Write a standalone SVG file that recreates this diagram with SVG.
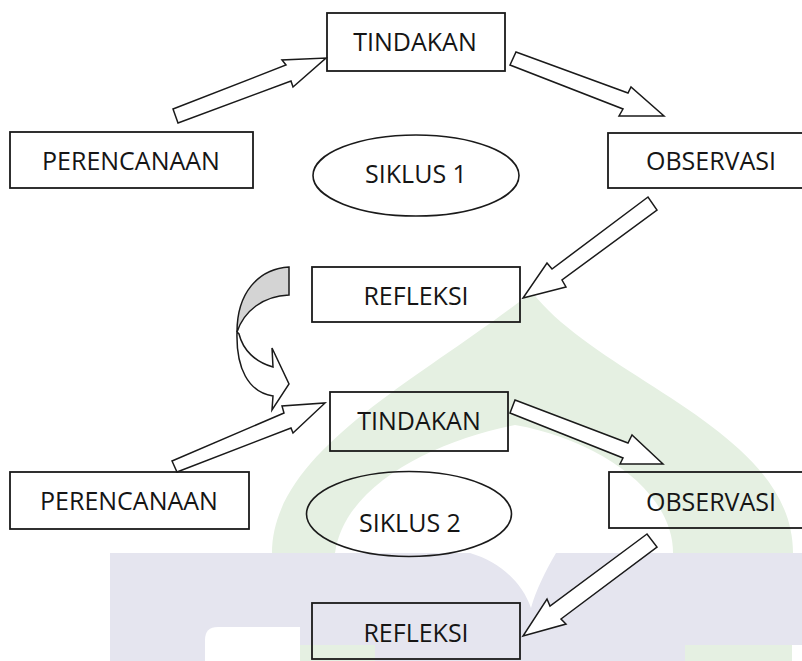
<svg xmlns="http://www.w3.org/2000/svg" width="802" height="661" viewBox="0 0 802 661">
  <style>
    .box { fill: #ffffff; fill-opacity: 0; stroke: #1a1a1a; stroke-width: 1.8; }
    .ell { fill: none; stroke: #1a1a1a; stroke-width: 1.6; }
    .lbl { font-family: "Open Sans", "Noto Sans", sans-serif; font-size: 25px; fill: #151515; text-anchor: middle; }
    .arr { fill: #ffffff; stroke: #1a1a1a; stroke-width: 1.5; stroke-linejoin: miter; }
  </style>
  <rect x="0" y="0" width="802" height="661" fill="#ffffff"/>
  <g id="watermark">
    <path d="M272,553 C272,450 420,380 532,292 C600,380 793,430 793,553 Z" fill="#e5f0e2"/>
    <path d="M335,553 C345,482 440,440 515,425 C600,440 673,492 673,553 Z" fill="#ffffff"/>
    <rect x="110" y="553" width="692" height="92" fill="#e5e5ef"/>
    <path d="M470,553 L556,553 C545,572 536,590 531,608 C522,582 500,562 470,553 Z" fill="#ffffff"/>
    <rect x="110" y="645" width="95" height="16" fill="#e5e5ef"/>
    <path d="M205,661 L205,640 Q205,627 218,627 L300,627 L300,661 Z" fill="#ffffff"/>
    <rect x="300" y="645" width="75" height="16" fill="#e5f0e2"/>
    <rect x="375" y="645" width="310" height="16" fill="#e5e5ef"/>
    <rect x="685" y="645" width="107" height="16" fill="#e5f0e2"/>
  </g>
  <g id="connectors">
    <path class="arr" d="M173,109 L286,65 L282,60 L326,58 L293,87 L291,81 L178,123 Z"/>
    <path class="arr" d="M516,52 L628,93 L631,87 L664,116 L619,116 L623,109 L510,65 Z"/>
    <path class="arr" d="M648,197 L552,269 L547,263 L523,298 L566,287 L562,280 L657,210 Z"/>
    <path class="arr" d="M172,461 L284,413 L282,406 L325,403 L293,433 L291,428 L177,472 Z"/>
    <path class="arr" d="M515,400 L628,443 L632,435 L663,464 L620,464 L623,458 L510,413 Z"/>
    <path class="arr" d="M647,534 L550,606 L547,599 L523,636 L566,624 L561,619 L657,547 Z"/>
    <path class="arr" d="M237,332 C236,368 248,392 273,396 L272,410 L289,384 L272,348 L273,367 C255,362 243,350 239,334 Z"/>
    <path d="M289,267 C258,269 237,293 237,332 C244,311 263,296 289,295 Z" fill="#d4d4d4" stroke="#1a1a1a" stroke-width="1.5"/>
  </g>
  <g id="tindakan1">
    <rect class="box" x="327" y="13" width="178" height="58"/>
    <text class="lbl" x="415" y="51">TINDAKAN</text>
  </g>
  <g id="perencanaan1">
    <rect class="box" x="10" y="132" width="243" height="56"/>
    <text class="lbl" x="131" y="170">PERENCANAAN</text>
  </g>
  <g id="siklus1">
    <ellipse class="ell" cx="416" cy="175.5" rx="103" ry="40.5"/>
    <text class="lbl" x="416" y="183">SIKLUS 1</text>
  </g>
  <g id="observasi1">
    <rect class="box" x="608" y="133" width="210" height="55"/>
    <text class="lbl" x="711" y="170">OBSERVASI</text>
  </g>
  <g id="refleksi1">
    <rect class="box" x="312" y="267" width="208" height="55"/>
    <text class="lbl" x="416" y="305">REFLEKSI</text>
  </g>
  <g id="tindakan2">
    <rect class="box" x="330" y="392" width="178" height="59"/>
    <text class="lbl" x="419" y="430">TINDAKAN</text>
  </g>
  <g id="perencanaan2">
    <rect class="box" x="10" y="472" width="239" height="57"/>
    <text class="lbl" x="129" y="510">PERENCANAAN</text>
  </g>
  <g id="siklus2">
    <ellipse class="ell" cx="409" cy="514" rx="102.5" ry="42.5"/>
    <text class="lbl" x="410" y="532">SIKLUS 2</text>
  </g>
  <g id="observasi2">
    <rect class="box" x="609" y="472" width="210" height="56"/>
    <text class="lbl" x="711" y="511">OBSERVASI</text>
  </g>
  <g id="refleksi2">
    <rect class="box" x="312" y="603" width="208" height="56"/>
    <text class="lbl" x="416" y="642">REFLEKSI</text>
  </g>
</svg>
